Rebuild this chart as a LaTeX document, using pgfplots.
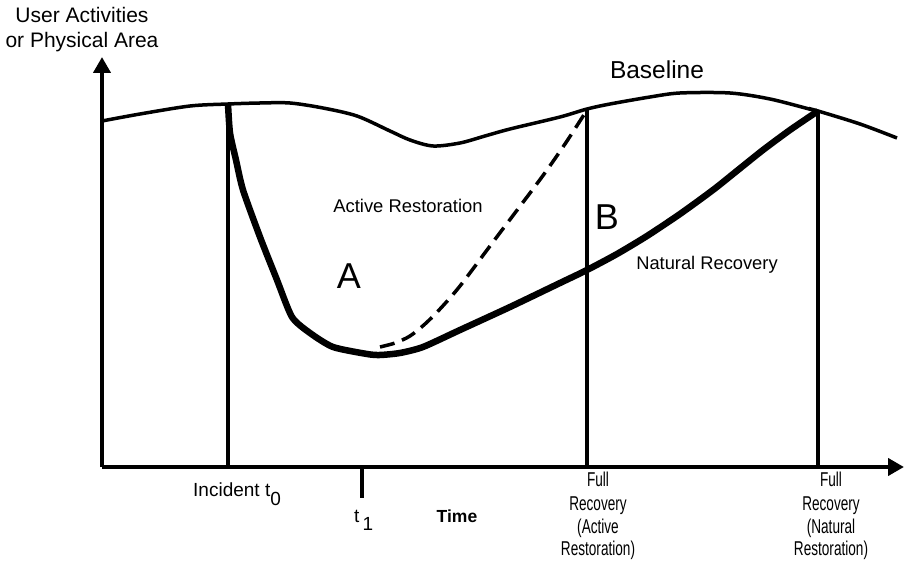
\documentclass[border=0pt]{standalone}
\usepackage{fontspec}
\setmainfont{Liberation Sans}
\newfontfamily\narrowfont[FakeStretch=0.68]{Liberation Sans}
\usepackage{pgfplots}
\pgfplotsset{compat=1.18}
\usetikzlibrary{arrows.meta}
\tikzset{bottomlbl/.style={anchor=base, inner sep=0pt, font=\fontsize{20}{23}\selectfont\narrowfont}}
\begin{document}
\begin{tikzpicture}
\useasboundingbox (0,0) rectangle (911pt,562pt);
\begin{axis}[
  at={(102pt,95pt)}, anchor=south west,
  scale only axis, width=802pt, height=410pt,
  xmin=102, xmax=904, ymin=0, ymax=410,
  axis lines=left, xtick=\empty, ytick=\empty,
  axis line style={line width=4pt, -{Stealth[length=16pt,width=17pt,inset=0pt]}},
  clip=false,
]
% Baseline
\addplot[line width=3.5pt, smooth, tension=0.5] coordinates {
(102,346) (140,353) (190,361) (228,363) (260,364) (290,364) (323,359)
(357,351) (390,336) (410,327) (433,321) (460,324) (485,331) (510,338)
(560,350) (587,358) (610,363) (650,370) (680,374) (730,374) (770,368)
(813,357) (818,356) (860,343) (897,329)};
% Natural recovery
\addplot[line width=6.5pt, smooth, tension=0.4, line join=round] coordinates {
(228,363) (230,334) (236,307) (243,277) (260,230) (277,187) (292,150)
(310,134) (333,120) (367,113) (380,112) (400,114) (423,120) (460,137)
(510,160) (560,184) (587,197) (617,213) (647,231) (680,253) (713,277)
(738,297) (763,317) (790,337) (818,356)};
% Active restoration (dashed)
\addplot[line width=3.5pt, smooth, tension=0.5, dash pattern=on 15pt off 8pt] coordinates {
(380,120) (395,124) (410,131) (425,143) (440,158) (460,181) (493,225)
(527,270) (547,297) (567,326) (587,357)};
% Vertical lines
\addplot[line width=3.5pt] coordinates {(228,0) (228,363)};
\addplot[line width=3.5pt] coordinates {(587,0) (587,358)};
\addplot[line width=3.5pt] coordinates {(818,0) (818,356)};
\addplot[line width=4pt] coordinates {(362,0) (362,-31)};
% Labels
\node[anchor=base, font=\fontsize{21}{25}\selectfont] at (axis cs:82,444) {User Activities};
\node[anchor=base, font=\fontsize{21}{25}\selectfont] at (axis cs:82,419) {or Physical Area};
\node[anchor=base, font=\fontsize{24.5}{28}\selectfont] at (axis cs:657,388) {Baseline};
\node[anchor=base, font=\fontsize{18.4}{22}\selectfont] at (axis cs:408,254) {Active Restoration};
\node[anchor=base, font=\fontsize{18.3}{22}\selectfont] at (axis cs:707,197) {Natural Recovery};
\node[anchor=base, font=\fontsize{36}{40}\selectfont] at (axis cs:349,178) {A};
\node[anchor=base, font=\fontsize{36}{40}\selectfont] at (axis cs:607,237) {B};
\node[anchor=base west, inner sep=0pt, font=\fontsize{19}{23}\selectfont] at (axis cs:193,-30) {Incident t\raisebox{-9pt}{0}};
\node[anchor=base west, inner sep=0pt, font=\fontsize{19}{23}\selectfont] at (axis cs:354,-56) {t\,\raisebox{-8pt}{1}};
\node[anchor=base, font=\fontsize{17.5}{22}\selectfont\bfseries] at (axis cs:457,-56) {Time};
\node[bottomlbl] at (axis cs:598,-20) {Full};
\node[bottomlbl] at (axis cs:598,-44) {Recovery};
\node[bottomlbl] at (axis cs:598,-67) {(Active};
\node[bottomlbl] at (axis cs:598,-89) {Restoration)};
\node[bottomlbl] at (axis cs:831,-20) {Full};
\node[bottomlbl] at (axis cs:831,-44) {Recovery};
\node[bottomlbl] at (axis cs:831,-67) {(Natural};
\node[bottomlbl] at (axis cs:831,-89) {Restoration)};
\end{axis}
\end{tikzpicture}
\end{document}
